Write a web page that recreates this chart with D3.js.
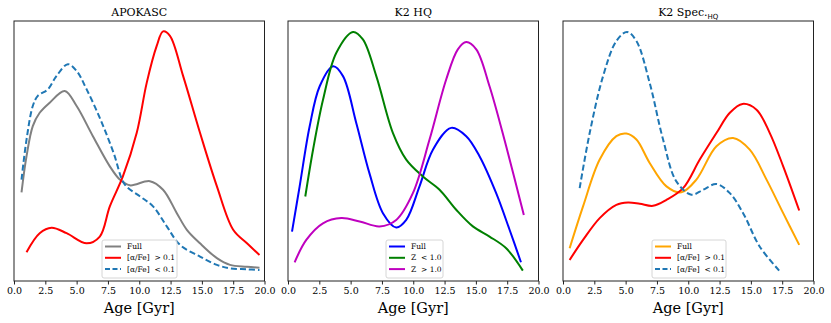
<!DOCTYPE html>
<html>
<head>
<meta charset="utf-8">
<script src="https://cdn.jsdelivr.net/npm/d3@7"></script>
<style>
  body { margin: 0; background: #fff; }
  text { font-family: "DejaVu Serif", serif; fill: #000; white-space: pre; }
</style>
</head>
<body>
<div class="chart"></div>
<script>
// x ticks shared by all three panels
var ageTicks = [0, 2.5, 5, 7.5, 10, 12.5, 15, 17.5, 20];

// APOKASC
var apoFullAge = [0.6, 1.0, 1.5, 2.05, 2.85, 4.05, 5.0, 6.3, 7.65, 8.45, 9.25, 10.85, 11.9, 13.0, 13.8, 14.85, 16.2, 17.25, 18.6, 19.6];
var apoFull    = [0.341, 0.48, 0.596, 0.647, 0.686, 0.731, 0.673, 0.557, 0.441, 0.39, 0.368, 0.384, 0.351, 0.261, 0.197, 0.145, 0.088, 0.062, 0.055, 0.051];
var apoHiAge = [1.0, 2.05, 3.0, 4.2, 5.8, 6.85, 7.65, 8.7, 9.8, 10.6, 11.4, 11.9, 12.45, 13.5, 14.85, 16.2, 17.5, 18.6, 19.6];
var apoHi    = [0.111, 0.184, 0.205, 0.184, 0.145, 0.171, 0.287, 0.403, 0.57, 0.763, 0.905, 0.96, 0.943, 0.789, 0.57, 0.364, 0.197, 0.145, 0.1];
var apoLoAge = [0.6, 1.0, 1.5, 1.9, 2.7, 3.4, 4.3, 5.0, 5.8, 6.9, 7.95, 8.85, 10.05, 11.1, 12.2, 13.25, 14.85, 16.2, 17.25, 18.6, 19.6];
var apoLo    = [0.39, 0.544, 0.673, 0.712, 0.737, 0.789, 0.834, 0.808, 0.737, 0.622, 0.493, 0.371, 0.326, 0.287, 0.21, 0.139, 0.094, 0.062, 0.049, 0.045, 0.042];

// K2 HQ
var hqFullAge = [0.32, 0.93, 1.73, 2.53, 3.6, 4.39, 5.45, 6.5, 7.58, 8.64, 9.44, 10.5, 11.57, 13.03, 14.23, 15.3, 16.62, 17.69, 18.6];
var hqFull    = [0.19, 0.364, 0.595, 0.749, 0.826, 0.788, 0.608, 0.415, 0.261, 0.206, 0.235, 0.364, 0.505, 0.589, 0.557, 0.479, 0.338, 0.197, 0.072];
var hqLoZAge = [1.38, 2.0, 2.8, 3.86, 5.19, 5.98, 7.05, 8.38, 9.44, 10.77, 12.1, 13.43, 14.76, 16.09, 17.42, 18.75];
var hqLoZ    = [0.325, 0.505, 0.698, 0.878, 0.958, 0.929, 0.788, 0.569, 0.467, 0.402, 0.351, 0.274, 0.21, 0.171, 0.126, 0.04];
var hqHiZAge = [0.53, 1.46, 2.79, 4.26, 5.72, 7.31, 8.64, 9.97, 11.3, 12.63, 13.56, 14.23, 15.03, 16.09, 17.42, 18.83];
var hqHiZ    = [0.072, 0.158, 0.222, 0.242, 0.229, 0.21, 0.235, 0.338, 0.544, 0.775, 0.891, 0.919, 0.891, 0.749, 0.518, 0.254];

// K2 Spec HQ
var spFullAge = [0.53, 1.6, 2.93, 4.26, 5.06, 5.86, 6.92, 8.26, 9.45, 10.65, 12.25, 13.58, 14.91, 16.25, 17.58, 18.86];
var spFull    = [0.126, 0.287, 0.467, 0.557, 0.567, 0.544, 0.454, 0.364, 0.341, 0.39, 0.518, 0.55, 0.505, 0.39, 0.261, 0.139];
var spHiAge = [0.53, 1.6, 2.93, 4.26, 5.19, 6.13, 7.19, 8.26, 9.59, 10.92, 12.25, 13.32, 14.33, 15.45, 16.51, 17.58, 18.86];
var spHi    = [0.081, 0.158, 0.242, 0.293, 0.302, 0.297, 0.289, 0.312, 0.357, 0.467, 0.569, 0.647, 0.681, 0.659, 0.569, 0.441, 0.271];
var spLoAge = [1.33, 2.13, 3.2, 4.26, 5.11, 5.86, 6.92, 7.99, 9.05, 10.25, 11.19, 12.25, 13.32, 14.38, 15.71, 17.26];
var spLo    = [0.357, 0.569, 0.788, 0.923, 0.958, 0.923, 0.762, 0.544, 0.383, 0.332, 0.351, 0.373, 0.338, 0.261, 0.132, 0.04];

function zip(xs, ys) { return xs.map(function (x, i) { return { age: x, d: ys[i] }; }); }

var panels = [
  { title: "APOKASC", left: 14, legendW: 75,
    series: [
      { label: "Full", color: "#808080", dash: null, data: zip(apoFullAge, apoFull) },
      { label: "[α/Fe]  > 0.1", color: "#ff0000", dash: null, data: zip(apoHiAge, apoHi) },
      { label: "[α/Fe]  < 0.1", color: "#1f77b4", dash: "6,3", data: zip(apoLoAge, apoLo) }
    ], legendX: 102 },
  { title: "K2 HQ", left: 288, legendW: 57,
    series: [
      { label: "Full", color: "#0000ff", dash: null, data: zip(hqFullAge, hqFull) },
      { label: "Z  < 1.0", color: "#008000", dash: null, data: zip(hqLoZAge, hqLoZ) },
      { label: "Z  > 1.0", color: "#bf00bf", dash: null, data: zip(hqHiZAge, hqHiZ) }
    ], legendX: 386 },
  { title: "K2 Spec.", sub: "HQ", left: 563, legendW: 74,
    series: [
      { label: "Full", color: "#ffa500", dash: null, data: zip(spFullAge, spFull) },
      { label: "[α/Fe]  > 0.1", color: "#ff0000", dash: null, data: zip(spHiAge, spHi) },
      { label: "[α/Fe]  < 0.1", color: "#1f77b4", dash: "6,3", data: zip(spLoAge, spLo) }
    ], legendX: 652 }
];

var svgWidth = 831, svgHeight = 323;
var plotTop = 21, plotBottom = 281, pw = 250.5;

var svg = d3.select(".chart").append("svg")
  .attr("width", svgWidth)
  .attr("height", svgHeight);

var y = d3.scaleLinear().domain([0, 1]).range([plotBottom, plotTop]);

panels.forEach(function (p) {
  var x = d3.scaleLinear().domain([0, 20]).range([p.left, p.left + pw]);
  var g = svg.append("g");

  var line = d3.line()
    .x(function (d) { return x(d.age); })
    .y(function (d) { return y(d.d); })
    .curve(d3.curveCatmullRom.alpha(0.5));

  p.series.forEach(function (s) {
    g.append("path")
      .attr("d", line(s.data))
      .attr("fill", "none")
      .attr("stroke", s.color)
      .attr("stroke-width", 2)
      .attr("stroke-dasharray", s.dash);
  });

  // frame
  g.append("rect")
    .attr("x", p.left).attr("y", plotTop)
    .attr("width", pw).attr("height", plotBottom - plotTop)
    .attr("fill", "none").attr("stroke", "#222").attr("stroke-width", 1);

  // x axis
  var axis = g.append("g")
    .attr("transform", "translate(0," + plotBottom + ")")
    .call(d3.axisBottom(x).tickValues(ageTicks).tickFormat(d3.format(".1f")).tickSizeOuter(0).tickSize(3.5).tickPadding(3));
  axis.select(".domain").remove();
  axis.selectAll("line").attr("stroke", "#222");
  axis.selectAll("text").style("font-family", "DejaVu Serif").style("font-size", "9.5px").attr("fill", "#000");

  g.append("text")
    .attr("x", p.left + pw / 2).attr("y", 313)
    .attr("text-anchor", "middle")
    .style("font-size", "14.5px")
    .text("Age [Gyr]");

  var t = g.append("text")
    .attr("x", p.left + pw / 2).attr("y", 16)
    .attr("text-anchor", "middle")
    .style("font-size", "11px")
    .text(p.title);
  if (p.sub) {
    t.append("tspan").attr("dy", 2.5)
      .style("font-family", "DejaVu Sans").style("font-size", "7px")
      .text(p.sub);
  }

  // legend
  var lg = g.append("g").attr("transform", "translate(" + p.legendX + ",240)");
  lg.append("rect")
    .attr("width", p.legendW).attr("height", 38).attr("rx", 2)
    .attr("fill", "#fff").attr("fill-opacity", 0.8)
    .attr("stroke", "#ccc").attr("stroke-width", 0.8);
  p.series.forEach(function (s, i) {
    var ly = 6.5 + i * 11.3;
    lg.append("line")
      .attr("x1", 3).attr("x2", 19).attr("y1", ly).attr("y2", ly)
      .attr("stroke", s.color).attr("stroke-width", 2)
      .attr("stroke-dasharray", s.dash ? "5,2.5" : null);
    lg.append("text")
      .attr("x", 25).attr("y", ly + 2.6)
      .style("font-size", "7.5px")
      .text(s.label);
  });
});
</script>
</body>
</html>
